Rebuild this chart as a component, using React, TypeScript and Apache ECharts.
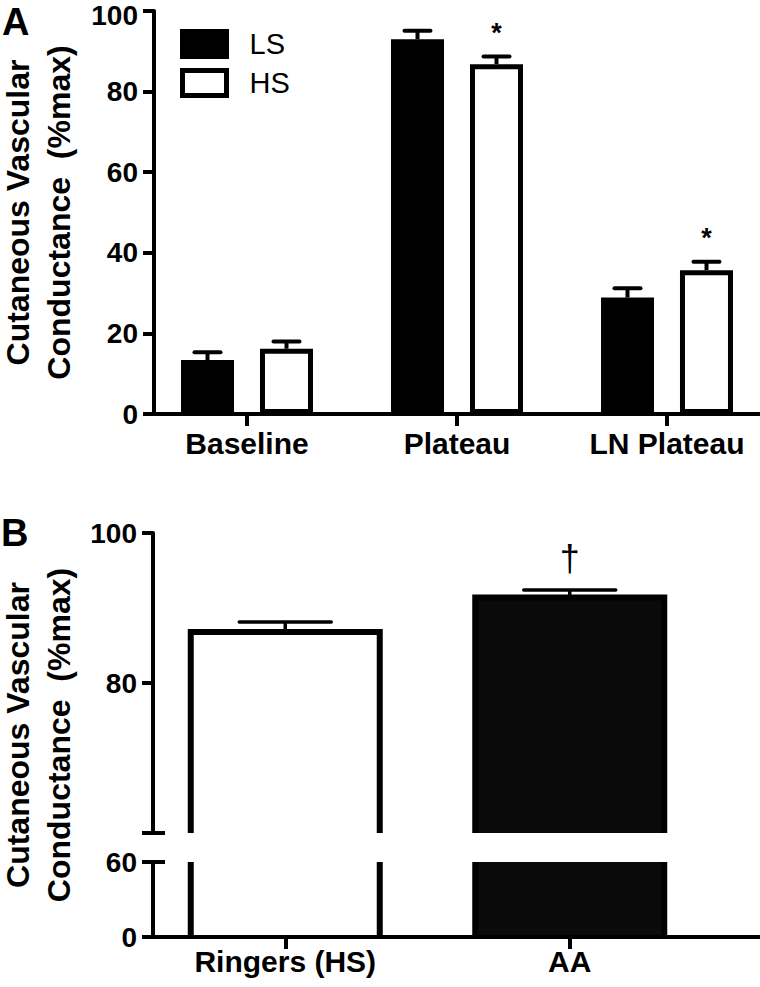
import React, { useEffect, useRef } from 'react';
import * as echarts from 'echarts';

// ---------- data ----------
const categoriesA = ['Baseline', 'Plateau', 'LN Plateau'];
const lsMean = [13.4, 93.0, 28.9];
const lsSem = [1.9, 2.1, 2.3];
const lsMarks = ['', '', ''];
const hsMean = [16.2, 86.8, 35.7];
const hsSem = [1.8, 1.9, 2.1];
const hsMarks = ['', '*', '*'];

const categoriesB = ['Ringers (HS)', 'AA'];
const bMean = [86.8, 91.4];
const bSem = [1.35, 1.0];
const bMarks = ['', '\u2020'];

const yRangeA = [0, 100];
const yStepA = 20;
const yRangeBUpper = [60, 100];
const yStepBUpper = 20;
const yRangeBLower = [0, 60];
const yStepBLower = 60;
const breakValue = 60;

const yTitleLine1 = 'Cutaneous Vascular';
const yTitleLine2 = 'Conductance  (%max)';

// ---------- styles ----------
const FONT = '"Liberation Sans", Arial, Helvetica, sans-serif';
const A_BAR_W = 53;
const A_BAR_GAP = '49%';
const A_OFFSET = 39.5;
const A_BORDER = 5;
const A_CAP = 30;
const A_ERR_LW = 4;
const B_BAR_W = 189;
const B_BORDER = 6;
const B_CAP = 96;
const B_ERR_LW = 3.5;
const B_FILLS = ['#ffffff', '#0a0a0a'];

const axisLineStyle = { color: '#000', width: 4 };

function errRenderA(sign: number, marks: string[]) {
  return (params: any, api: any) => {
    const i = api.value(0);
    const m = api.value(1);
    const s = api.value(2);
    const p0 = api.coord([i, m]);
    const p1 = api.coord([i, m + s]);
    const x = p0[0] + sign * A_OFFSET;
    const children: any[] = [
      { type: 'line', shape: { x1: x, y1: p0[1], x2: x, y2: p1[1] }, style: { stroke: '#000', lineWidth: A_ERR_LW } },
      {
        type: 'line',
        shape: { x1: x - A_CAP / 2 + 2, y1: p1[1], x2: x + A_CAP / 2 - 2, y2: p1[1] },
        style: { stroke: '#000', lineWidth: A_ERR_LW, lineCap: 'round' },
      },
    ];
    const mark = marks[params.dataIndex];
    if (mark) {
      children.push({
        type: 'text',
        x,
        y: p1[1] - 24,
        style: { text: mark, fontSize: 27, fontWeight: 'bold', fontFamily: FONT, fill: '#000', align: 'center', verticalAlign: 'middle' },
      });
    }
    return { type: 'group', children };
  };
}

function barRenderB(params: any, api: any) {
  const i = api.value(0);
  const m = api.value(1);
  const s = api.value(2);
  const cs = params.coordSys;
  const pTop = api.coord([i, m]);
  const cx = pTop[0];
  const yTop = pTop[1];
  const yBase = api.coord([i, 0])[1];
  const top = Math.max(yTop, cs.y);
  const bot = Math.min(yBase, cs.y + cs.height);
  if (bot <= top) return null;
  const l = cx - B_BAR_W / 2;
  const r = cx + B_BAR_W / 2;
  const children: any[] = [
    { type: 'rect', shape: { x: l, y: top, width: r - l, height: bot - top }, style: { fill: B_FILLS[params.dataIndex] } },
  ];
  if (yTop >= cs.y) {
    children.push({
      type: 'polyline',
      shape: { points: [[l, bot], [l, yTop], [r, yTop], [r, bot]] },
      style: { fill: null, stroke: '#000', lineWidth: B_BORDER, lineJoin: 'miter' },
    });
    const yCap = api.coord([i, m + s])[1];
    children.push({ type: 'line', shape: { x1: cx, y1: yTop, x2: cx, y2: yCap }, style: { stroke: '#000', lineWidth: B_ERR_LW } });
    children.push({
      type: 'line',
      shape: { x1: cx - B_CAP / 2 + 2, y1: yCap, x2: cx + B_CAP / 2 - 2, y2: yCap },
      style: { stroke: '#000', lineWidth: B_ERR_LW, lineCap: 'round' },
    });
    const mark = bMarks[params.dataIndex];
    if (mark) {
      children.push({
        type: 'text',
        x: cx,
        y: yCap - 32,
        style: { text: mark, fontSize: 36, fontFamily: FONT, fill: '#000', align: 'center', verticalAlign: 'middle' },
      });
    }
  } else {
    children.push({ type: 'line', shape: { x1: l, y1: top, x2: l, y2: bot }, style: { stroke: '#000', lineWidth: B_BORDER } });
    children.push({ type: 'line', shape: { x1: r, y1: top, x2: r, y2: bot }, style: { stroke: '#000', lineWidth: B_BORDER } });
  }
  return { type: 'group', children };
}

const catLabel = (margin: number) => ({
  fontSize: 30,
  fontWeight: 'bold',
  fontFamily: FONT,
  color: '#000',
  margin,
});

const valLabel = {
  fontSize: 28,
  fontWeight: 'bold',
  fontFamily: FONT,
  color: '#000',
  margin: 16,
};

const nameStyle = { fontSize: 32, fontWeight: 'bold', fontFamily: FONT, color: '#000', lineHeight: 36 };

const G = (left: number, top: number, width: number, height: number) => ({
  left,
  top,
  width,
  height,
  outerBoundsMode: 'none',
  containLabel: false,
});

const nameAxis = (gridIndex: number, name: string, nameGap: number, min: number, max: number) => ({
  gridIndex,
  type: 'value',
  position: 'left',
  min,
  max,
  axisLine: { show: false },
  axisTick: { show: false },
  axisLabel: { show: false },
  splitLine: { show: false },
  name,
  nameLocation: 'middle',
  nameRotate: 90,
  nameGap,
  nameMoveOverlap: false,
  nameTextStyle: nameStyle,
});

export default function App() {
  const ref = useRef<HTMLDivElement>(null);
  useEffect(() => {
    if (!ref.current) return;
    const chart = echarts.init(ref.current, null, { renderer: 'svg' });
    const option: any = {
      animation: false,
      backgroundColor: '#fff',
      textStyle: { fontFamily: FONT },
      title: [
        { text: 'A', left: 2, top: 3, padding: 0, textStyle: { fontSize: 38, fontWeight: 'bold', fontFamily: FONT, color: '#000' } },
        { text: 'B', left: 1, top: 514, padding: 0, textStyle: { fontSize: 38, fontWeight: 'bold', fontFamily: FONT, color: '#000' } },
      ],
      legend: {
        data: ['LS', 'HS'],
        orient: 'vertical',
        left: 180,
        top: 29,
        itemWidth: 44,
        itemHeight: 25,
        itemGap: 9,
        padding: 0,
        selectedMode: false,
        icon: 'rect',
        itemStyle: { borderWidth: 5, borderColor: '#000' },
        textStyle: { fontSize: 29, fontFamily: FONT, color: '#000', lineHeight: 25, padding: [0, 0, 0, 18] },
      },
      grid: [
        G(142, 11, 630, 403),
        G(154, 11, 606, 403),
        G(143, 533, 569, 300),
        G(143, 862, 569, 75),
        G(153, 533, 607, 300),
        G(153, 862, 607, 75),
        G(153, 533, 607, 404),
      ],
      xAxis: [
        {
          gridIndex: 0,
          type: 'category',
          data: categoriesA,
          axisLine: { show: false },
          axisTick: { show: true, alignWithLabel: true, length: 12, lineStyle: axisLineStyle },
          axisLabel: catLabel(14),
          splitLine: { show: false },
        },
        {
          gridIndex: 1,
          type: 'value',
          min: 0,
          max: 1,
          axisLine: { show: true, onZero: false, lineStyle: axisLineStyle },
          axisTick: { show: false },
          axisLabel: { show: false },
          splitLine: { show: false },
        },
        { gridIndex: 2, type: 'category', data: categoriesB, show: false },
        {
          gridIndex: 3,
          type: 'category',
          data: categoriesB,
          axisLine: { show: false },
          axisTick: { show: true, alignWithLabel: true, length: 12, lineStyle: axisLineStyle },
          axisLabel: catLabel(9),
          splitLine: { show: false },
        },
        { gridIndex: 4, type: 'value', min: 0, max: 1, show: false },
        {
          gridIndex: 5,
          type: 'value',
          min: 0,
          max: 1,
          z: 10,
          axisLine: { show: true, onZero: false, lineStyle: axisLineStyle },
          axisTick: { show: false },
          axisLabel: { show: false },
          splitLine: { show: false },
        },
        { gridIndex: 6, type: 'value', min: 0, max: 1, show: false },
      ],
      yAxis: [
        { gridIndex: 0, type: 'value', min: yRangeA[0], max: yRangeA[1], show: false },
        {
          gridIndex: 1,
          type: 'value',
          position: 'left',
          min: yRangeA[0],
          max: yRangeA[1],
          interval: yStepA,
          axisLine: { show: true, onZero: false, lineStyle: axisLineStyle },
          axisTick: { show: true, length: 11, lineStyle: axisLineStyle },
          axisLabel: {
            ...valLabel,
            formatter: (v: number) => (v === yRangeA[1] ? '{top|' + v + '}' : String(v)),
            rich: { top: { fontSize: 28, fontWeight: 'bold', fontFamily: FONT, color: '#000', padding: [9, 0, 0, 0] } },
          },
          splitLine: { show: false },
          name: yTitleLine2,
          nameLocation: 'middle',
          nameRotate: 90,
          nameGap: 77,
          nameMoveOverlap: false,
          nameTextStyle: nameStyle,
        },
        nameAxis(1, yTitleLine1, 118, yRangeA[0], yRangeA[1]),
        { gridIndex: 2, type: 'value', min: yRangeBUpper[0], max: yRangeBUpper[1], show: false },
        { gridIndex: 3, type: 'value', min: yRangeBLower[0], max: yRangeBLower[1], show: false },
        {
          gridIndex: 4,
          type: 'value',
          position: 'left',
          min: yRangeBUpper[0],
          max: yRangeBUpper[1],
          interval: yStepBUpper,
          axisLine: { show: true, onZero: false, lineStyle: axisLineStyle },
          axisTick: { show: true, length: 11, lineStyle: axisLineStyle },
          axisLabel: { ...valLabel, formatter: (v: number) => (v === breakValue ? '' : String(v)) },
          splitLine: { show: false },
        },
        {
          gridIndex: 4,
          type: 'value',
          position: 'left',
          min: yRangeBUpper[0],
          max: yRangeBUpper[1],
          axisLine: { show: false },
          axisTick: { show: true, inside: true, length: 12, lineStyle: axisLineStyle, customValues: [breakValue] },
          axisLabel: { show: false },
          splitLine: { show: false },
        },
        {
          gridIndex: 5,
          type: 'value',
          position: 'left',
          min: yRangeBLower[0],
          max: yRangeBLower[1],
          interval: yStepBLower,
          axisLine: { show: true, onZero: false, lineStyle: axisLineStyle },
          axisTick: { show: true, length: 11, lineStyle: axisLineStyle },
          axisLabel: valLabel,
          splitLine: { show: false },
        },
        {
          gridIndex: 5,
          type: 'value',
          position: 'left',
          min: yRangeBLower[0],
          max: yRangeBLower[1],
          axisLine: { show: false },
          axisTick: { show: true, inside: true, length: 12, lineStyle: axisLineStyle, customValues: [breakValue] },
          axisLabel: { show: false },
          splitLine: { show: false },
        },
        nameAxis(6, yTitleLine1, 117, 0, 1),
        nameAxis(6, yTitleLine2, 76, 0, 1),
      ],
      series: [
        {
          name: 'LS',
          type: 'bar',
          xAxisIndex: 0,
          yAxisIndex: 0,
          data: lsMean,
          barWidth: A_BAR_W,
          barGap: A_BAR_GAP,
          itemStyle: { color: '#000', borderColor: '#000', borderWidth: A_BORDER },
        },
        {
          name: 'HS',
          type: 'bar',
          xAxisIndex: 0,
          yAxisIndex: 0,
          data: hsMean,
          barWidth: A_BAR_W,
          barGap: A_BAR_GAP,
          itemStyle: { color: '#fff', borderColor: '#000', borderWidth: A_BORDER },
        },
        {
          name: 'LS err',
          type: 'custom',
          xAxisIndex: 0,
          yAxisIndex: 0,
          renderItem: errRenderA(-1, lsMarks),
          data: lsMean.map((m, i) => [i, m, lsSem[i]]),
          encode: { x: 0, y: 1 },
        },
        {
          name: 'HS err',
          type: 'custom',
          xAxisIndex: 0,
          yAxisIndex: 0,
          renderItem: errRenderA(1, hsMarks),
          data: hsMean.map((m, i) => [i, m, hsSem[i]]),
          encode: { x: 0, y: 1 },
        },
        {
          name: 'B upper',
          type: 'custom',
          xAxisIndex: 2,
          yAxisIndex: 3,
          renderItem: barRenderB,
          data: bMean.map((m, i) => [i, m, bSem[i]]),
          encode: { x: 0, y: 1 },
        },
        {
          name: 'B lower',
          type: 'custom',
          xAxisIndex: 3,
          yAxisIndex: 4,
          renderItem: barRenderB,
          data: bMean.map((m, i) => [i, m, bSem[i]]),
          encode: { x: 0, y: 1 },
        },
      ],
    };
    chart.setOption(option);
    return () => chart.dispose();
  }, []);
  return <div ref={ref} style={{ position: 'absolute', left: 0, top: 0, width: 760, height: 987 }} />;
}
